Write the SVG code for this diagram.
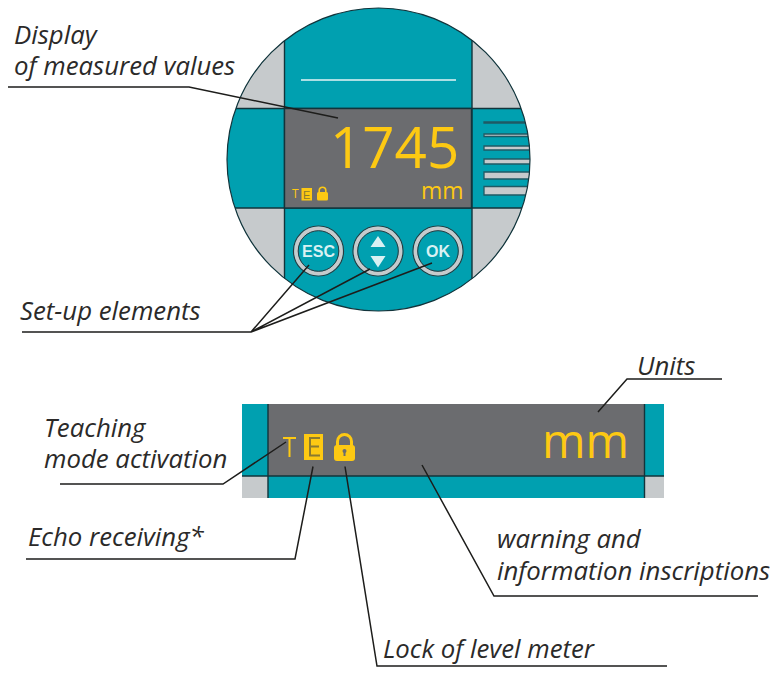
<svg xmlns="http://www.w3.org/2000/svg" width="782" height="681" viewBox="0 0 782 681">
<style>
.lbl{font-family:"Open Sans","Noto Sans",sans-serif;font-style:italic;font-size:25.750px;fill:#2b2a29}
.lead{fill:none;stroke:#1d1d1b;stroke-width:1.5}
.edge{stroke:#12343b;stroke-width:1.4;fill:none}
.y{fill:#fdc913}
.num{font-family:"Open Sans","Noto Sans",sans-serif;fill:#fdc913}
.key{font-family:"Liberation Sans",sans-serif;font-weight:700;fill:#d8f1f3;text-anchor:middle}
.ring{fill:#00a0b0;stroke:#2b3a3f;stroke-width:1.2}
.band{fill:none;stroke:#c6cacc;stroke-width:3.800}
.inner{fill:none;stroke:#2b3a3f;stroke-width:1}
.slot{fill:#c6cacc;stroke:#1f5a64;stroke-width:1.300}
</style>
<defs>
<clipPath id="dial"><circle cx="378.500" cy="159.500" r="151.500"/></clipPath>
</defs>
<g id="device">
<g clip-path="url(#dial)">
<rect x="220" y="0" width="320" height="320" fill="#00a0b0"/>
<rect x="220" y="0" width="64.500" height="108" fill="#c6cacc"/>
<rect x="472" y="0" width="70" height="108" fill="#c6cacc"/>
<rect x="220" y="208" width="64.500" height="110" fill="#c6cacc"/>
<rect x="472" y="208" width="70" height="110" fill="#c6cacc"/>
<path class="edge" d="M284.500 0V320M472 0V320M220 108.500H540M220 208H540"/>
<path class="slot" d="M484 122H540V123H484Z"/>
<path class="slot" d="M484 134H540V136.500H484Z"/>
<path class="slot" d="M484 146H540V150H484Z"/>
<path class="slot" d="M484 159H540V164H484Z"/>
<path class="slot" d="M484 172H540V179H484Z"/>
<path class="slot" d="M484 186.500H540V195H484Z"/>
</g>
<circle cx="378.500" cy="159.500" r="151.500" fill="none" stroke="#12343b" stroke-width="1.200"/>
<rect x="284.500" y="108.500" width="187" height="99.500" fill="#6b6c6f" stroke="#12343b" stroke-width="1.400"/>
<path d="M301 80H456" stroke="#e6f5f6" stroke-width="1.500"/>
<text class="num" x="330" y="168" font-size="56.500">1745</text>
<text class="num" x="421" y="199" font-size="23">mm</text>
<g>
<text class="num" x="292" y="198" font-size="12">T</text>
<rect x="301.500" y="188" width="10.500" height="12.500" class="y"/>
<text x="303" y="198.500" font-family="Liberation Sans,sans-serif" font-size="11" fill="#8a7a30">E</text>
<rect x="317" y="192" width="11" height="8.500" rx="1.500" class="y"/>
<path d="M319.200 192.500V190.500a3.300 3.300 0 0 1 6.600 0V192.500" fill="none" stroke="#fdc913" stroke-width="1.600"/>
</g>
</g>
<g id="btn-esc"><circle class="ring" cx="318.500" cy="251" r="25"/><circle class="band" cx="318.500" cy="251" r="22.500"/><circle class="inner" cx="318.500" cy="251" r="20.300"/><text class="key" x="318.500" y="257" font-size="16">ESC</text></g>
<g id="btn-arrows"><circle class="ring" cx="378" cy="251" r="25"/><circle class="band" cx="378" cy="251" r="22.500"/><circle class="inner" cx="378" cy="251" r="20.300"/><path d="M378 236L385.500 247H370.500Z M378 267.500L385.500 256H370.500Z" fill="#d8f1f3"/></g>
<g id="btn-ok"><circle class="ring" cx="438" cy="251" r="25"/><circle class="band" cx="438" cy="251" r="22.500"/><circle class="inner" cx="438" cy="251" r="20.300"/><text class="key" x="438" y="257" font-size="16">OK</text></g>
<g id="strip">
<rect x="242" y="404" width="422" height="94" fill="#00a0b0"/>
<rect x="268" y="404" width="376.500" height="72" fill="#6b6c6f"/>
<rect x="242" y="476" width="26" height="22" fill="#c6cacc"/>
<rect x="644.500" y="476" width="19.500" height="22" fill="#c6cacc"/>
<path class="edge" d="M268 404V498M644.500 404V498M242 476H664"/>
<text class="num" x="542" y="458" font-size="47">mm</text>
<rect x="283" y="437" width="13" height="2" class="y"/><rect x="288.500" y="437" width="2" height="20" class="y"/>
<rect x="304" y="434" width="19" height="26" class="y"/>
<path d="M310 438H320M310 446.500H319M310 455.500H320M310 437V456.500" fill="none" stroke="#8a7a30" stroke-width="2"/>
<rect x="334" y="445" width="21" height="16" rx="3" class="y"/>
<path d="M337.500 446V441.500a7 7 0 0 1 14 0V446" fill="none" stroke="#fdc913" stroke-width="3"/>
<circle cx="344.500" cy="451" r="2" fill="#6b6c6f"/><rect x="343.500" y="451" width="2" height="5" fill="#6b6c6f"/>
</g>
<g id="connectors">
<path class="lead" d="M8 87H189L338 118"/>
<path class="lead" d="M22 332H251L309 265M251 332L370 269M251 332L432 263"/>
<path class="lead" d="M722 379H627L598 412"/>
<path class="lead" d="M60 484H223L286 442"/>
<path class="lead" d="M26 559H295L313 466.500"/>
<path class="lead" d="M667 666H377L345 466.500"/>
<path class="lead" d="M758 596H494L422 465"/>
</g>
<g id="labels">
<text class="lbl" x="14" y="44">Display</text>
<text class="lbl" x="14" y="75">of measured values</text>
<text class="lbl" x="20" y="320">Set-up elements</text>
<text class="lbl" x="637" y="375">Units</text>
<text class="lbl" x="44" y="437">Teaching</text>
<text class="lbl" x="44" y="468">mode activation</text>
<text class="lbl" x="28" y="546">Echo receiving*</text>
<text class="lbl" x="497" y="548">warning and</text>
<text class="lbl" x="497" y="580">information inscriptions</text>
<text class="lbl" x="383" y="658">Lock of level meter</text>
</g>
</svg>
